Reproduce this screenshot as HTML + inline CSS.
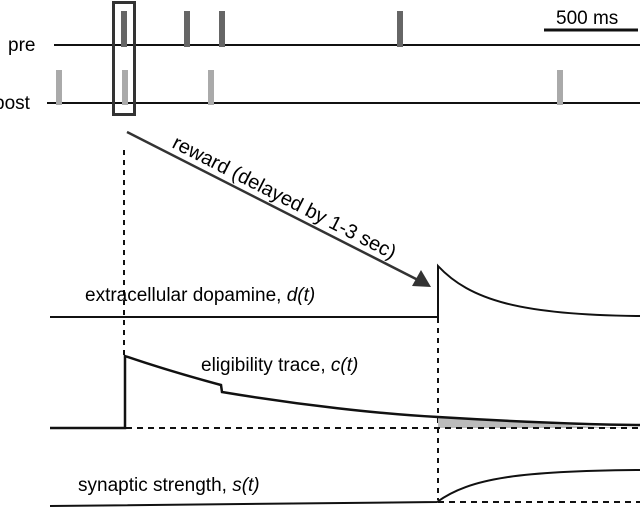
<!DOCTYPE html>
<html><head><style>body{margin:0;background:#fff}svg{display:block}</style></head>
<body>
<svg width="640" height="507" xmlns="http://www.w3.org/2000/svg" font-family="Liberation Sans, sans-serif">
<rect width="640" height="507" fill="#fff"/>
<text x="8" y="51" font-size="19">pre</text>
<text x="-6" y="109" font-size="19">post</text>
<line x1="54" y1="45" x2="640" y2="45" stroke="#111" stroke-width="2"/>
<line x1="47" y1="103" x2="640" y2="103" stroke="#111" stroke-width="2"/>
<g fill="#666">
<rect x="121" y="11" width="6" height="36"/><rect x="184" y="11" width="6" height="36"/>
<rect x="219" y="11" width="6" height="36"/><rect x="397" y="11" width="6" height="36"/>
</g>
<g fill="#aaa">
<rect x="56" y="70" width="6" height="35"/><rect x="122" y="70" width="6" height="35"/>
<rect x="208" y="70" width="6" height="35"/><rect x="557" y="70" width="6" height="35"/>
</g>
<rect x="113.5" y="2.5" width="21" height="112" fill="none" stroke="#333" stroke-width="3"/>
<line x1="544" y1="30" x2="638" y2="30" stroke="#111" stroke-width="3"/>
<text x="556" y="24" font-size="19">500 ms</text>
<line x1="127" y1="132" x2="418" y2="280" stroke="#333" stroke-width="2.5"/>
<polygon points="431,287 412,286 421,270" fill="#333"/>
<text x="0" y="0" font-size="20" transform="translate(171,147) rotate(27)">reward (delayed by 1-3 sec)</text>
<line x1="124" y1="150" x2="124" y2="355" stroke="#111" stroke-width="2" stroke-dasharray="5,5"/>
<line x1="438" y1="318" x2="438" y2="500" stroke="#111" stroke-width="2" stroke-dasharray="5,5"/>
<text x="85" y="301" font-size="19">extracellular dopamine, <tspan font-style="italic">d(t)</tspan></text>
<path d="M50 317 H438 V266 C470 300 520 315 640 316" fill="none" stroke="#111" stroke-width="2"/>
<text x="201" y="371" font-size="19">eligibility trace, <tspan font-style="italic">c(t)</tspan></text>
<path d="M438 417 L600 427 L640 428 L438 428 Z" fill="#bbb"/>
<line x1="126" y1="428" x2="640" y2="428" stroke="#111" stroke-width="2" stroke-dasharray="6,5"/>
<path d="M50 428 H125 V356 C160 368 195 378 221 385 L222 392 C300 405 380 414 438 417 C520 422 600 425 640 425" fill="none" stroke="#111" stroke-width="2.5"/>
<text x="78" y="491" font-size="19">synaptic strength, <tspan font-style="italic">s(t)</tspan></text>
<line x1="438" y1="502" x2="640" y2="502" stroke="#111" stroke-width="2" stroke-dasharray="6,5"/>
<path d="M50 506 L437 502 C470 478 520 471 640 470" fill="none" stroke="#111" stroke-width="2"/>
</svg>
</body></html>
